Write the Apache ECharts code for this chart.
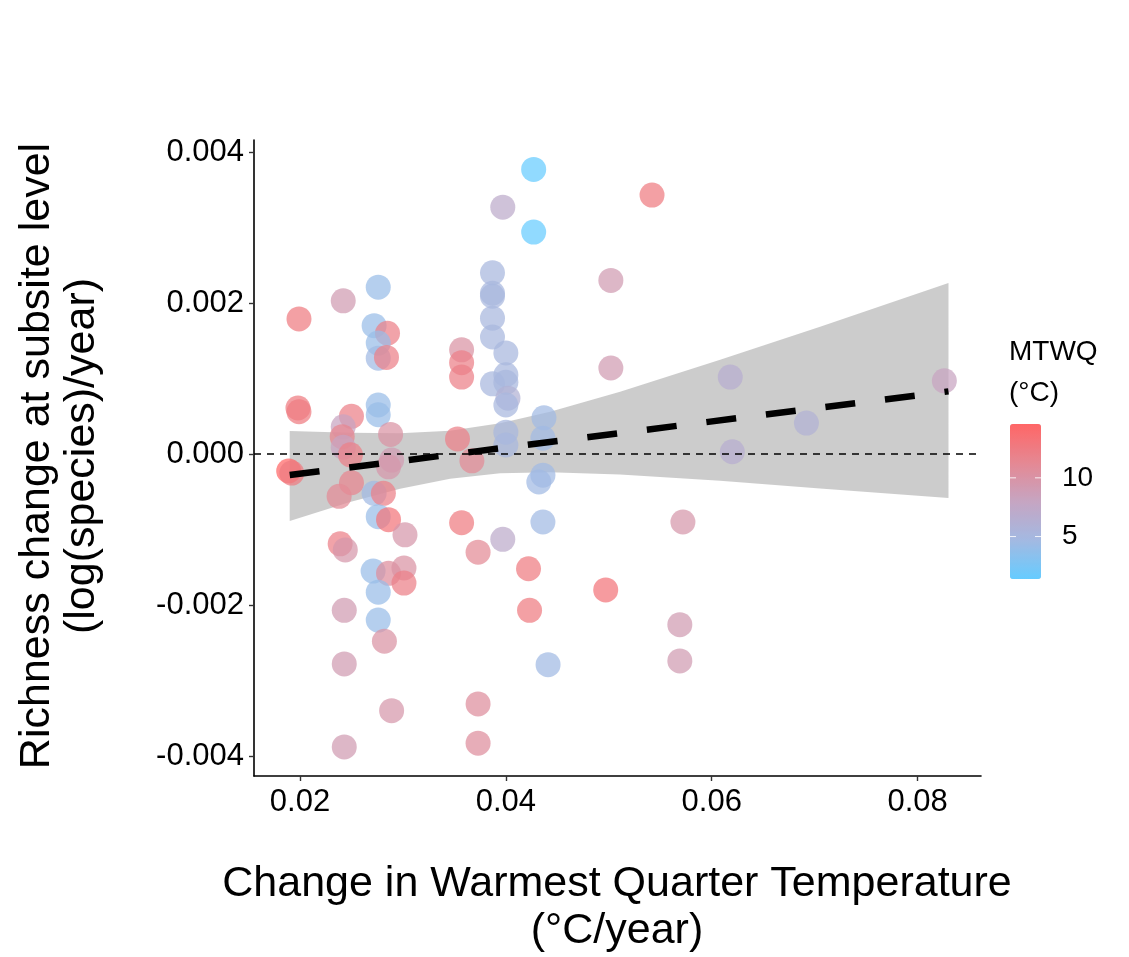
<!DOCTYPE html>
<html>
<head>
<meta charset="utf-8">
<script src="https://cdn.jsdelivr.net/npm/echarts@6/dist/echarts.min.js"></script>
<style>
  html, body { margin: 0; padding: 0; background: #fff; }
  #chart { width: 1129px; height: 957px; }
</style>
</head>
<body>
<div id="chart"></div>
<script>
// Subsite richness change vs. change in warmest-quarter temperature
const tempChange = [
  0.0189, 0.0192, 0.0199, 0.0198, 0.0199, 0.0242, 0.0276, 0.0272, 0.0285, 0.0276,
  0.0276, 0.0284, 0.0276, 0.0276, 0.0250, 0.0242, 0.0241, 0.0242, 0.0249, 0.0288,
  0.0289, 0.0286, 0.0250, 0.0238, 0.0272, 0.0281, 0.0276, 0.0286, 0.0302, 0.0239,
  0.0244, 0.0271, 0.0286, 0.0301, 0.0301, 0.0276, 0.0243, 0.0276, 0.0282, 0.0243,
  0.0289, 0.0243, 0.0427, 0.0397, 0.0427, 0.0542, 0.0502, 0.0387, 0.0387, 0.0387,
  0.0387, 0.0387, 0.0400, 0.0357, 0.0357, 0.0357, 0.0387, 0.0400, 0.0400, 0.0402,
  0.0400, 0.0502, 0.0353, 0.0367, 0.0400, 0.0400, 0.0437, 0.0436, 0.0436, 0.0432,
  0.0436, 0.0357, 0.0397, 0.0373, 0.0422, 0.0497, 0.0423, 0.0441, 0.0373, 0.0373,
  0.0618, 0.0692, 0.0620, 0.0826, 0.0572, 0.0569, 0.0569
];
const richnessChange = [
  -0.000225, -0.000252, 0.00179, 0.00061, 0.00056, 0.00203, 0.00221, 0.00170, 0.00160, 0.00147,
  0.00127, 0.00128, 0.00065, 0.00052, 0.00050, 0.00036, 0.00023, 0.00009, -0.00001, 0.00026,
  -0.00008, -0.00017, -0.00038, -0.00056, -0.00052, -0.00052, -0.00083, -0.00087, -0.00107, -0.00119,
  -0.00127, -0.00155, -0.00158, -0.00151, -0.00171, -0.00183, -0.00207, -0.00220, -0.00248, -0.00278,
  -0.00340, -0.00388, 0.00377, 0.00327, 0.00294, 0.00343, 0.00230, 0.00240, 0.00213, 0.00209,
  0.00180, 0.00155, 0.00134, 0.00138, 0.00121, 0.00102, 0.00093, 0.00105, 0.00095, 0.00074,
  0.00065, 0.00114, 0.00020, -0.00009, 0.00029, 0.00012, 0.00048, 0.00021, -0.00028, -0.00037,
  -0.00090, -0.00091, -0.00113, -0.00130, -0.00152, -0.00180, -0.00207, -0.00279, -0.00331, -0.00383,
  0.00102, 0.00041, 0.00003, 0.00097, -0.00090, -0.00226, -0.00274
];
const mtwq = [
  14.5, 12.5, 12.5, 12.5, 12.5, 9, 4, 4, 12, 4,
  4.5, 12, 4, 4, 12, 8, 11.5, 8, 12, 10,
  9, 9.5, 11.5, 11, 4.5, 12, 4, 13, 9.5, 12,
  9.5, 4, 10.5, 10, 12, 4, 9, 4, 10, 9,
  9.5, 9, 1.3, 7, 1.3, 12.5, 9, 5, 5, 5,
  5, 5, 5, 10, 12, 12, 5, 5, 5, 6,
  5, 9, 12, 11, 5, 5, 4.5, 4.5, 4.5, 4.5,
  4.5, 12.5, 7, 11, 12.5, 13, 12.5, 4.5, 10.5, 10.5,
  6.5, 6, 6.5, 8, 9.5, 9, 9
];

// Fitted linear trend and its confidence band
const fitX = [0.0190, 0.0830];
const fitY = [-0.000278, 0.00083];
const bandX = [0.0190, 0.02486, 0.02972, 0.03458, 0.03944, 0.0443, 0.0511, 0.06082, 0.07053, 0.0830];
const bandUpper = [0.000305, 0.000281, 0.000274, 0.00031, 0.000407, 0.00056, 0.000826, 0.001248, 0.001687, 0.002265];
const bandLower = [-0.000887, -0.000636, -0.00046, -0.000328, -0.000256, -0.00024, -0.00027, -0.000355, -0.000458, -0.000583];

const xTicks = [0.02, 0.04, 0.06, 0.08];
const yTicks = [-0.004, -0.002, 0, 0.002, 0.004];
const legendTicks = [5, 10];

const colorMin = 1.3, colorMax = 14.5;
const colorStops = ['#66CCFF', '#A3B9E2', '#C6A5C2', '#E58893', '#FF6666'];
const FONT = "'Liberation Sans', Arial, sans-serif";

const points = tempChange.map((x, i) => [x, richnessChange[i], mtwq[i]]);

const barLeft = 1010, barTop = 425, barW = 31, barH = 155;

const chart = echarts.init(document.getElementById('chart'), null, { renderer: 'canvas' });

const legendGraphics = [];
legendTicks.forEach(v => {
  const y = barTop + (colorMax - v) / (colorMax - colorMin) * barH;
  legendGraphics.push({
    type: 'line', silent: true, z: 100,
    shape: { x1: barLeft, y1: y, x2: barLeft + 6, y2: y },
    style: { stroke: 'rgba(255,255,255,0.85)', lineWidth: 1 }
  });
  legendGraphics.push({
    type: 'line', silent: true, z: 100,
    shape: { x1: barLeft + barW - 6, y1: y, x2: barLeft + barW, y2: y },
    style: { stroke: 'rgba(255,255,255,0.85)', lineWidth: 1 }
  });
  legendGraphics.push({
    type: 'text', silent: true, z: 100,
    style: {
      x: barLeft + barW + 21, y: y, text: String(v),
      font: '28px ' + FONT, fill: '#000', align: 'left', verticalAlign: 'middle'
    }
  });
});

chart.setOption({
  animation: false,
  backgroundColor: '#ffffff',
  grid: { left: 254, right: 148, top: 140, bottom: 181, containLabel: false },
  xAxis: {
    type: 'value',
    min: 0.01553, max: 0.08616,
    splitLine: { show: false },
    axisLine: { show: true, onZero: false, lineStyle: { color: '#000', width: 1.6 } },
    axisTick: { show: true, length: 5, customValues: xTicks, lineStyle: { color: '#333', width: 1.4 } },
    axisLabel: {
      customValues: xTicks, margin: 11,
      formatter: v => v.toFixed(2),
      fontFamily: FONT, fontSize: 31, color: '#000'
    }
  },
  yAxis: {
    type: 'value',
    min: -0.004265, max: 0.00416,
    splitLine: { show: false },
    axisLine: { show: true, onZero: false, lineStyle: { color: '#000', width: 1.6 } },
    axisTick: { show: true, length: 5, customValues: yTicks, lineStyle: { color: '#333', width: 1.4 } },
    axisLabel: {
      customValues: yTicks, margin: 10,
      formatter: v => (Math.abs(v) < 1e-12 ? 0 : v).toFixed(3),
      fontFamily: FONT, fontSize: 31, color: '#000'
    }
  },
  visualMap: {
    type: 'continuous',
    show: true,
    seriesIndex: 1,
    dimension: 2,
    min: colorMin, max: colorMax,
    calculable: false,
    left: barLeft - 15, top: barTop - 16,
    itemWidth: barW, itemHeight: barH,
    text: null,
    inRange: { color: colorStops }
  },
  graphic: [
    {
      type: 'text', silent: true,
      x: 617, y: 908,
      style: {
        text: 'Change in Warmest Quarter Temperature\n(°C/year)',
        font: '43px ' + FONT, fill: '#000',
        align: 'center', verticalAlign: 'middle', lineHeight: 47
      }
    },
    {
      type: 'text', silent: true,
      x: 60, y: 456, rotation: Math.PI / 2,
      style: {
        text: 'Richness change at subsite level\n(log(species)/year)',
        font: '43px ' + FONT, fill: '#000',
        align: 'center', verticalAlign: 'middle', lineHeight: 45
      }
    },
    {
      type: 'text', silent: true,
      x: 1009, y: 373,
      style: {
        text: 'MTWQ\n(°C)',
        font: '28px ' + FONT, fill: '#000',
        align: 'left', verticalAlign: 'middle', lineHeight: 41
      }
    }
  ].concat(legendGraphics),
  series: [
    {
      // confidence band of the linear fit
      type: 'custom',
      z: 1, silent: true,
      data: [[bandX[0], bandUpper[0]]],
      renderItem: (params, api) => {
        const pts = [];
        for (let i = 0; i < bandX.length; i++) pts.push(api.coord([bandX[i], bandUpper[i]]));
        for (let i = bandX.length - 1; i >= 0; i--) pts.push(api.coord([bandX[i], bandLower[i]]));
        return { type: 'polygon', shape: { points: pts }, style: { fill: 'rgba(153,153,153,0.5)' } };
      }
    },
    {
      type: 'scatter',
      z: 2, silent: true,
      symbolSize: 25,
      itemStyle: { opacity: 0.72 },
      data: points,
      markLine: {
        silent: true, symbol: 'none', z: 3,
        label: { show: false },
        lineStyle: { color: '#000', width: 1.5, type: [7, 6] },
        data: [{ yAxis: 0 }]
      }
    },
    {
      type: 'line',
      z: 4, silent: true,
      showSymbol: false,
      data: fitX.map((x, i) => [x, fitY[i]]),
      lineStyle: { color: '#000', width: 6.5, type: [30, 30], cap: 'butt' }
    }
  ]
});
</script>
</body>
</html>
